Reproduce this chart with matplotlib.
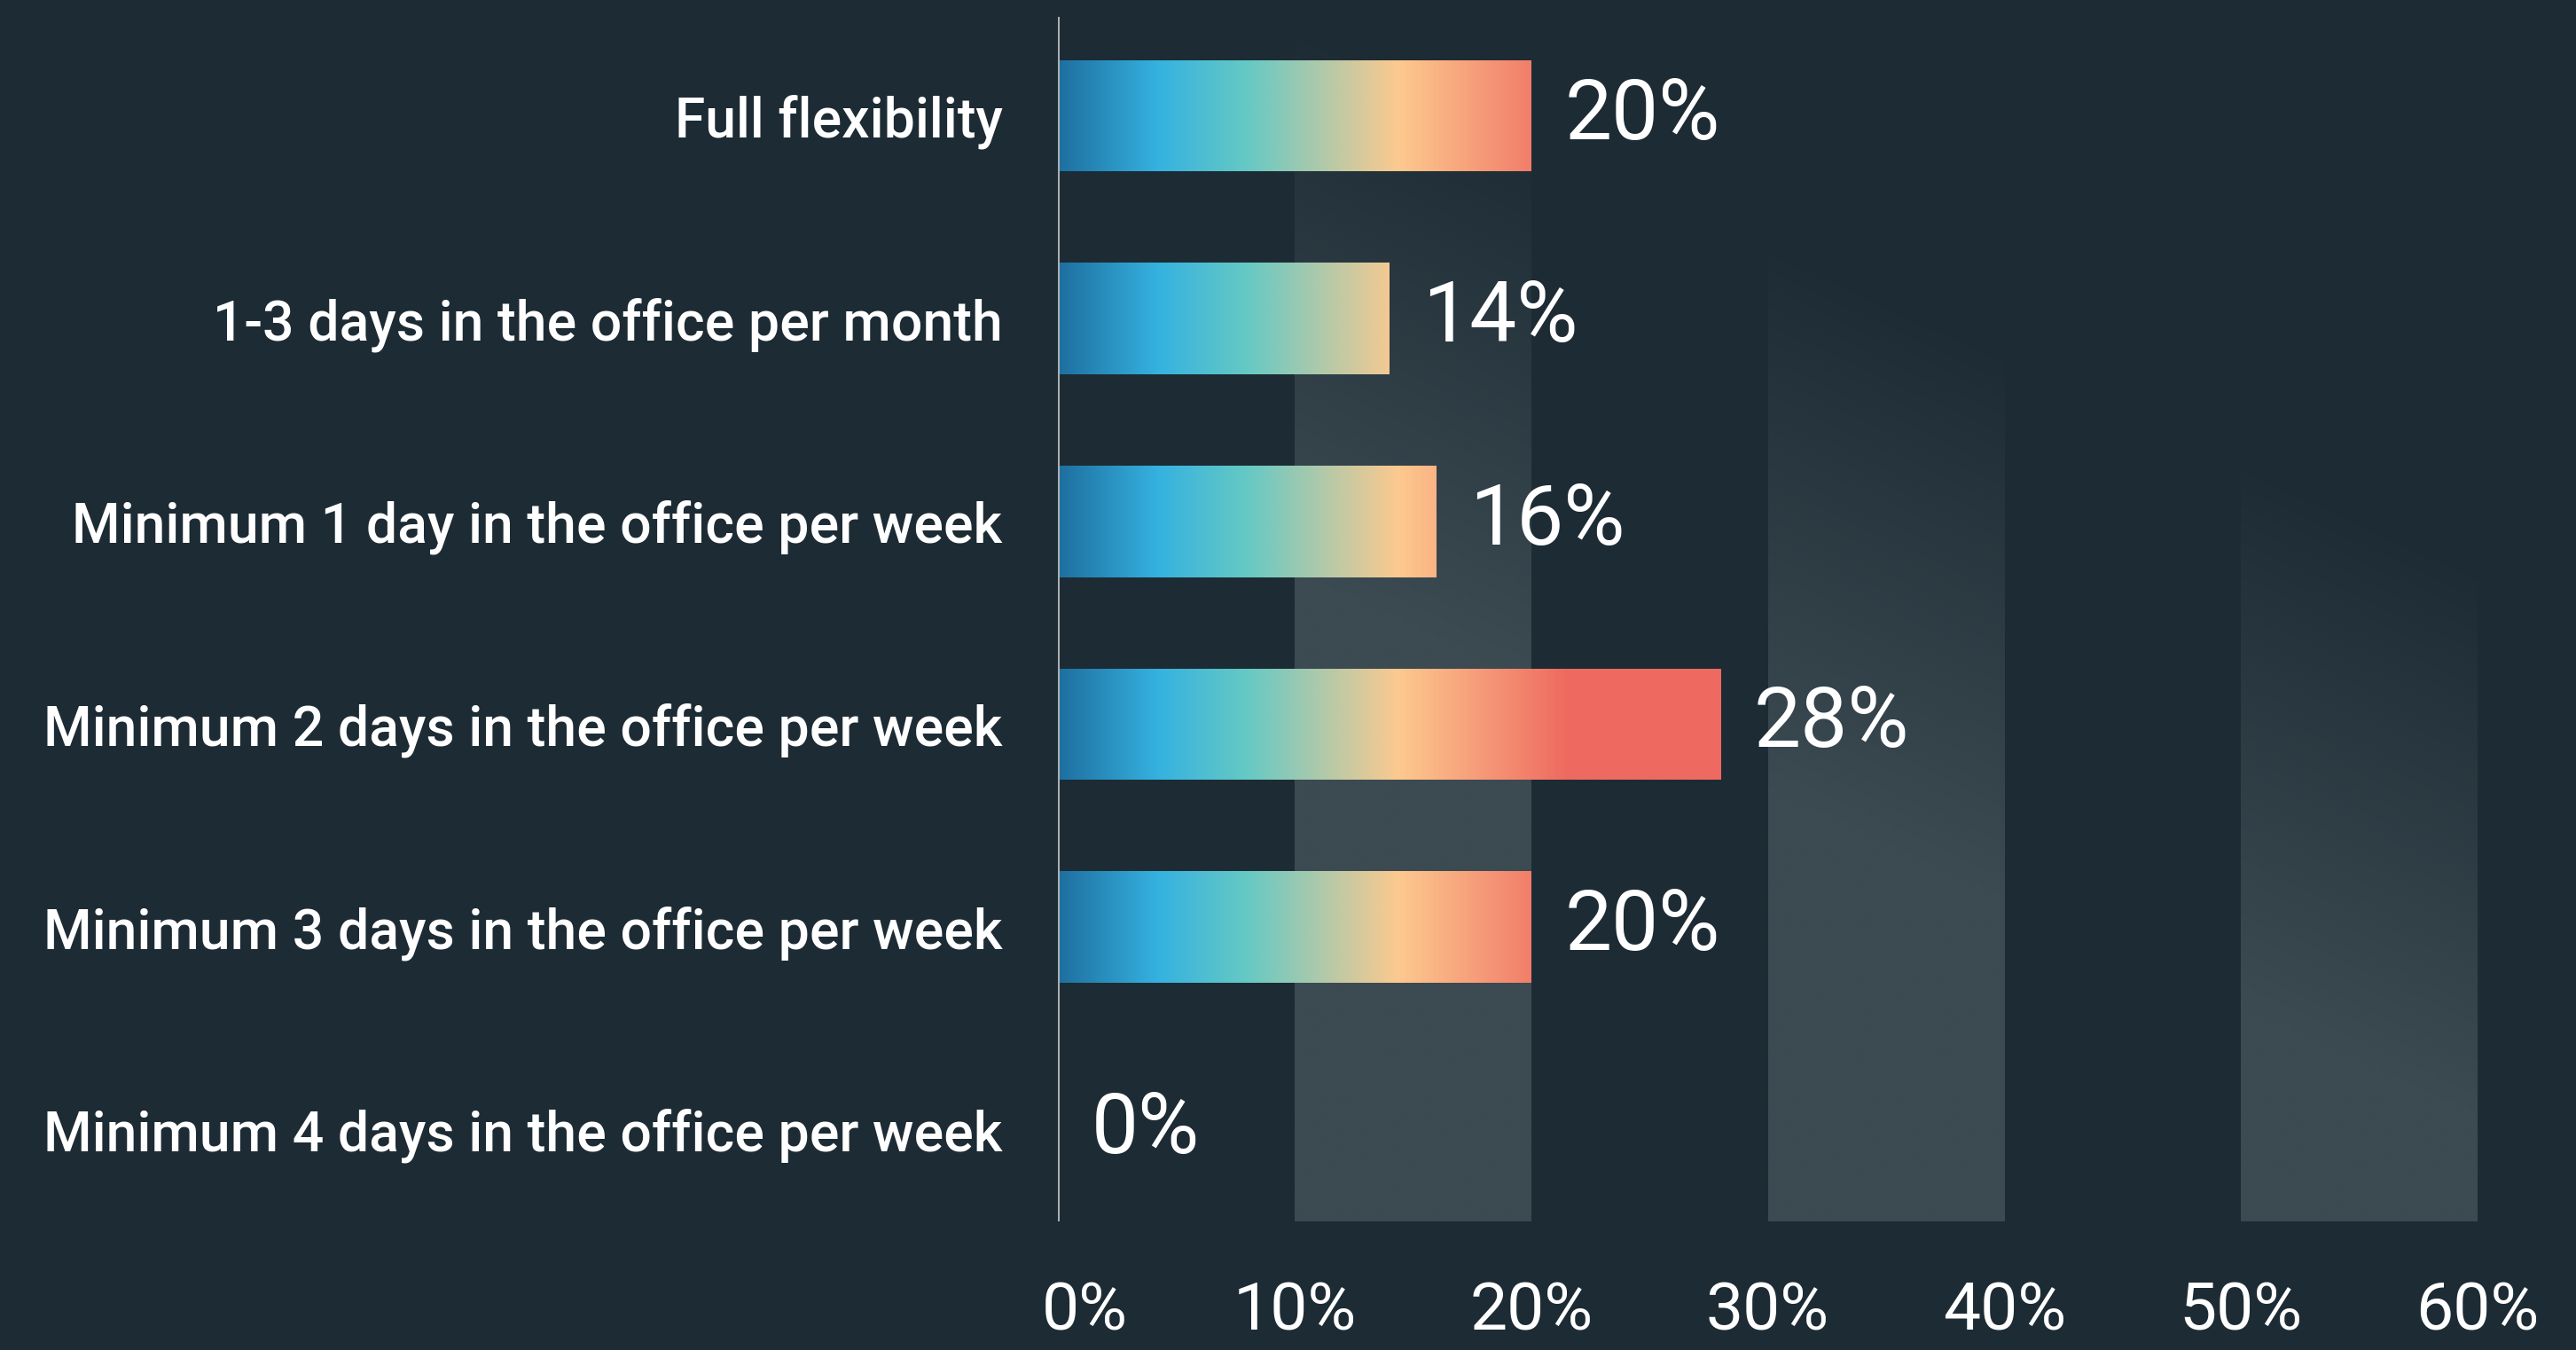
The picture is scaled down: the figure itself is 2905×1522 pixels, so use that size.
import matplotlib
matplotlib.use("Agg")
import matplotlib.pyplot as plt
import matplotlib.transforms as mtransforms
import numpy as np
from matplotlib.colors import LinearSegmentedColormap, Normalize, to_rgb

# Data
categories = [
    "Full flexibility",
    "1-3 days in the office per month",
    "Minimum 1 day in the office per week",
    "Minimum 2 days in the office per week",
    "Minimum 3 days in the office per week",
    "Minimum 4 days in the office per week",
]
values = [20, 14, 16, 28, 20, 0]
tick_values = [0, 10, 20, 30, 40, 50, 60]
tick_labels = ["0%", "10%", "20%", "30%", "40%", "50%", "60%"]
band_starts = [10, 30, 50]

bg = "#1d2b34"
band_col = "#3c4a52"
plt.rcParams["font.family"] = ["Roboto", "DejaVu Sans"]

# gradient used on the bars (positions in % along the x axis)
grad_pos = [0, 4.2, 8, 14.4, 21.5, 28]
grad_col = ["#1e6fa0", "#35b2e0", "#66c9c4", "#fdc98f", "#ee6a60", "#ee6a60"]
cmap = LinearSegmentedColormap.from_list(
    "bars", list(zip(np.array(grad_pos) / grad_pos[-1], grad_col)))
norm = Normalize(0, grad_pos[-1])

W, H = 2905, 1522
fig = plt.figure(figsize=(W / 100, H / 100), dpi=100, facecolor=bg)
ax_left, ax_right = 1193, 2794
ax_top, ax_bot = 18.5, 1376.6
ax = fig.add_axes([ax_left / W, 1 - ax_bot / H,
                   (ax_right - ax_left) / W, (ax_bot - ax_top) / H])
ax.set_facecolor(bg)

y = np.arange(len(categories))
ylo, yhi = len(categories) - 0.55, -0.49

# shaded columns with a diagonal fade toward the top right
rgb = np.array(to_rgb(band_col))
for x0 in band_starts:
    u = np.linspace(x0 / 60, (x0 + 10) / 60, 60)
    v = np.linspace(1, 0, 300)
    U, V = np.meshgrid(u, v)
    X = ax_left + U * (ax_right - ax_left)
    Y = ax_top + (1 - V) * (ax_bot - ax_top)
    alpha = np.clip((Y - (80 + 0.46 * (X - 1593))) / 620, 0, 1)
    img = np.zeros(alpha.shape + (4,))
    img[..., :3] = rgb
    img[..., 3] = alpha
    ax.imshow(img, extent=[x0, x0 + 10, ylo, yhi], aspect="auto",
              interpolation="bilinear", zorder=1)

# bars with a horizontal gradient clipped to each bar
bars = ax.barh(y, values, height=0.55, color="none", zorder=2)
xs = np.linspace(0, grad_pos[-1], 512)[None, :]
for b in bars:
    if b.get_width() <= 0:
        continue
    yb = b.get_y()
    im = ax.imshow(xs, cmap=cmap, norm=norm, aspect="auto",
                   extent=[0, grad_pos[-1], yb + b.get_height(), yb],
                   interpolation="bilinear", zorder=3)
    im.set_clip_path(b)

for yi, v in zip(y, values):
    ax.annotate(f"{v}%", (v, yi), xytext=(27, 0), textcoords="offset points",
                va="center", ha="left", color="white", fontsize=68, zorder=4)

ax.axvline(0, color="#a9afb2", lw=2.2, zorder=5)

ax.set_xlim(0, 60)
ax.set_ylim(ylo, yhi)
ax.set_yticks(y, categories)
ax.set_xticks(tick_values, tick_labels)
ax.tick_params(axis="y", length=0, pad=45, labelsize=45, labelcolor="white")
ax.tick_params(axis="x", length=0, pad=48, labelsize=54, labelcolor="white")
for lab in ax.get_yticklabels():
    lab.set_fontweight("medium")
# the 0% label sits a little right of its tick
first = ax.get_xticklabels()[0]
first.set_transform(first.get_transform() +
                    mtransforms.ScaledTranslation(0.3, 0, fig.dpi_scale_trans))
for s in ax.spines.values():
    s.set_visible(False)

fig.savefig("out.png", dpi=100, facecolor=bg)
